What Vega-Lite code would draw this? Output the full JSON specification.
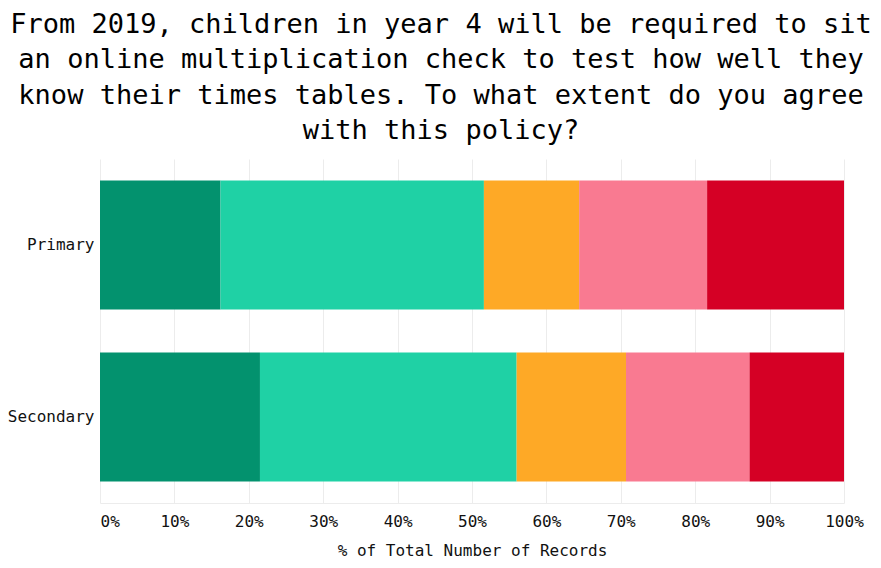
{
  "$schema": "https://vega.github.io/schema/vega-lite/v6.json",
  "width": 744,
  "height": 344,
  "autosize": {"type": "none"},
  "padding": {"left": 100, "top": 159, "right": 37, "bottom": 65},
  "background": "white",
  "title": {
    "text": ["From 2019, children in year 4 will be required to sit", "an online multiplication check to test how well they", "know their times tables. To what extent do you agree", "with this policy?"],
    "font": "DejaVu Sans Mono",
    "fontSize": 27,
    "fontWeight": "normal",
    "color": "#000000",
    "lineHeight": 35.5,
    "anchor": "middle",
    "frame": "group",
    "dx": -31,
    "offset": 14
  },
  "data": {
    "values": [
      {"school": "Primary", "response": "Strongly agree", "order": 1, "pct": 16.2},
      {"school": "Primary", "response": "Agree", "order": 2, "pct": 35.4},
      {"school": "Primary", "response": "Neither agree nor disagree", "order": 3, "pct": 12.8},
      {"school": "Primary", "response": "Disagree", "order": 4, "pct": 17.2},
      {"school": "Primary", "response": "Strongly disagree", "order": 5, "pct": 18.4},
      {"school": "Secondary", "response": "Strongly agree", "order": 1, "pct": 21.5},
      {"school": "Secondary", "response": "Agree", "order": 2, "pct": 34.5},
      {"school": "Secondary", "response": "Neither agree nor disagree", "order": 3, "pct": 14.7},
      {"school": "Secondary", "response": "Disagree", "order": 4, "pct": 16.6},
      {"school": "Secondary", "response": "Strongly disagree", "order": 5, "pct": 12.7}
    ]
  },
  "mark": {"type": "bar"},
  "encoding": {
    "y": {
      "field": "school",
      "type": "nominal",
      "title": null,
      "scale": {"paddingInner": 0.25, "paddingOuter": 0.125},
      "axis": {
        "domain": false,
        "ticks": false,
        "grid": false,
        "labelFont": "DejaVu Sans Mono",
        "labelFontSize": 16,
        "labelColor": "#111111",
        "labelPadding": 6
      }
    },
    "x": {
      "field": "pct",
      "type": "quantitative",
      "stack": "normalize",
      "title": "% of Total Number of Records",
      "scale": {"domain": [0, 1], "nice": false},
      "axis": {
        "format": ".0%",
        "values": [0, 0.1, 0.2, 0.3, 0.4, 0.5, 0.6, 0.7, 0.8, 0.9, 1],
        "grid": true,
        "gridColor": "#ececec",
        "domainColor": "#ececec",
        "ticks": false,
        "labelFont": "DejaVu Sans Mono",
        "labelFontSize": 16,
        "labelColor": "#111111",
        "labelPadding": 10,
        "labelFlush": false,
        "labelAlign": {"condition": {"test": "datum.value == 0", "value": "left"}, "value": "center"},
        "labelDx": {"condition": {"test": "datum.value == 0", "value": 2}, "value": 0},
        "titleFont": "DejaVu Sans Mono",
        "titleFontSize": 16,
        "titleFontWeight": "normal",
        "titleColor": "#111111",
        "titlePadding": 13
      }
    },
    "color": {
      "field": "response",
      "type": "nominal",
      "legend": null,
      "scale": {
        "domain": ["Strongly agree", "Agree", "Neither agree nor disagree", "Disagree", "Strongly disagree"],
        "range": ["#03926e", "#1fd1a5", "#fea926", "#f97a91", "#d50025"]
      }
    },
    "order": {"field": "order", "type": "quantitative"}
  },
  "config": {"view": {"stroke": null}}
}
